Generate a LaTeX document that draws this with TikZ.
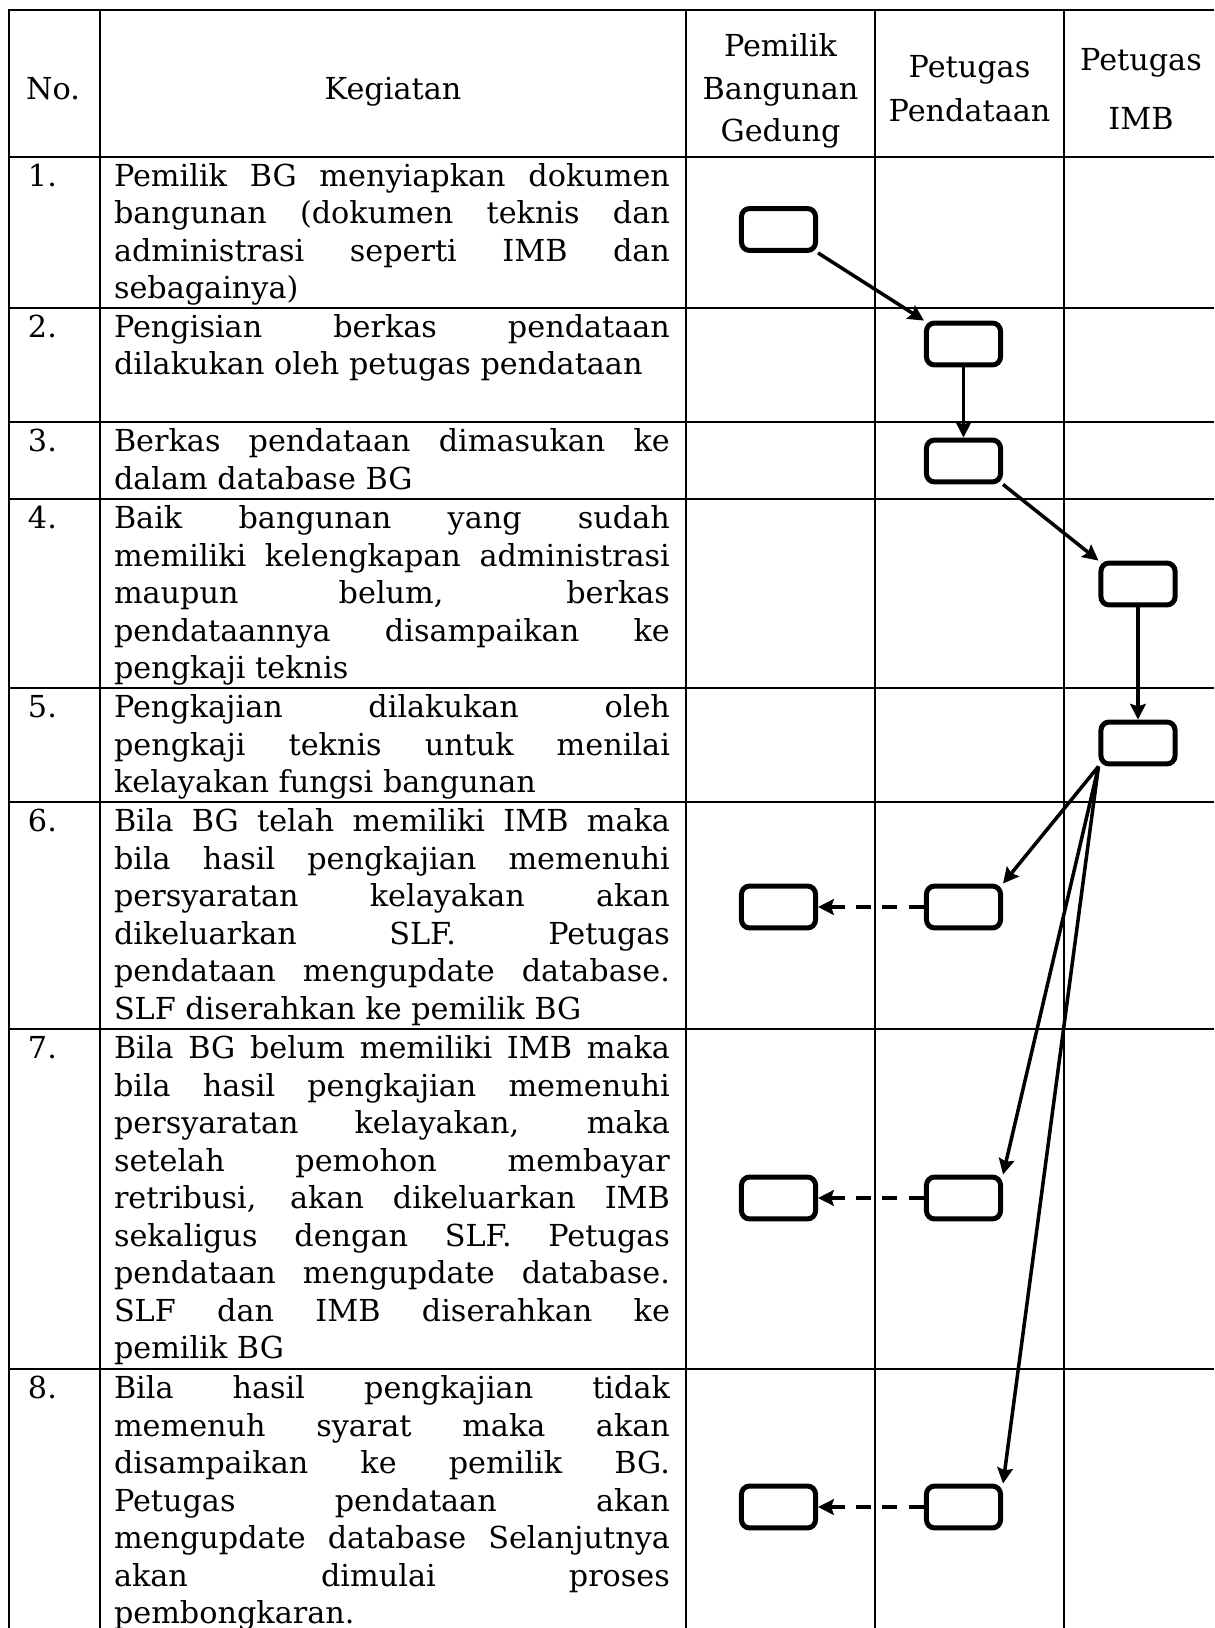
\documentclass[tikz,border=0pt]{standalone}
\usepackage{fontspec}
\setmainfont{DejaVu Serif}
\usetikzlibrary{arrows.meta}

% one drawing unit = 0.37pt
\newlength\tw \setlength\tw{205.7pt}
\newcommand\bodyfont{\fontsize{11.2}{13.875}\selectfont}
% justified line of a paragraph
\newcommand\jl[1]{\makebox[\tw][s]{#1}}
% text of the "Kegiatan" column, first baseline at the anchor
\newcommand\cell[1]{\parbox[t]{\tw}{\bodyfont #1}}
% centred header cell with its own line pitch
\newcommand\hcell[2]{\parbox[t]{66pt}{\centering\fontsize{11.2}{#1}\selectfont #2}}

\begin{document}
\begin{tikzpicture}[x=0.37pt,y=-0.37pt,
  grid/.style={line width=1pt},
  txt/.style={inner sep=0pt, outer sep=0pt, anchor=base west},
  head/.style={inner sep=0pt, outer sep=0pt, anchor=base},
  flowbox/.style={draw, line width=1.85pt, rounded corners=3pt,
    minimum width=27.4pt, minimum height=15.5pt, inner sep=0pt},
  flow/.style={line width=1.3pt, -{Stealth[length=5.8pt,width=5.8pt,inset=0.9pt]}},
  back/.style={flow, dash pattern=on 5.6pt off 4.2pt}]

\useasboundingbox (0,0) rectangle (1214,1628);

% table rules
\draw[grid] (1214,10) -- (9,10) -- (9,1628);
\foreach \y in {157,308,422,499,688,802,1029,1369}
  \draw[grid] (9,\y) -- (1214,\y);
\foreach \x in {100,686,875,1064}
  \draw[grid] (\x,10) -- (\x,1628);

% header
\node[head] (hno)  at (53,100)  {\bodyfont No.};
\node[head] (hkeg) at (393,100) {\bodyfont Kegiatan};
\node[head] (hpem) at (780.5,57) {\hcell{15.7pt}{Pemilik\\Bangunan\\Gedung}};
\node[head] (hpen) at (969.5,77.5) {\hcell{16.1pt}{Petugas\\Pendataan}};
\node[head] (himb) at (1141,71) {\hcell{21.6pt}{Petugas\\IMB}};

% row numbers
\node[txt] (n1) at (28,186.5)  {\bodyfont 1.};
\node[txt] (n2) at (28,337.5)  {\bodyfont 2.};
\node[txt] (n3) at (28,451.5)  {\bodyfont 3.};
\node[txt] (n4) at (28,528.5)  {\bodyfont 4.};
\node[txt] (n5) at (28,717.5)  {\bodyfont 5.};
\node[txt] (n6) at (28,831.5)  {\bodyfont 6.};
\node[txt] (n7) at (28,1058.5) {\bodyfont 7.};
\node[txt] (n8) at (28,1398.5) {\bodyfont 8.};

% activities
\node[txt] (t1) at (114,186.5) {\cell{%
  \jl{Pemilik BG menyiapkan dokumen}\\
  \jl{bangunan (dokumen teknis dan}\\
  \jl{administrasi seperti IMB dan}\\
  sebagainya)}};
\node[txt] (t2) at (114,337.5) {\cell{%
  \jl{Pengisian berkas pendataan}\\
  dilakukan oleh petugas pendataan}};
\node[txt] (t3) at (114,451.5) {\cell{%
  \jl{Berkas pendataan dimasukan ke}\\
  dalam database BG}};
\node[txt] (t4) at (114,528.5) {\cell{%
  \jl{Baik bangunan yang sudah}\\
  \jl{memiliki kelengkapan administrasi}\\
  \jl{maupun belum, berkas}\\
  \jl{pendataannya disampaikan ke}\\
  pengkaji teknis}};
\node[txt] (t5) at (114,717.5) {\cell{%
  \jl{Pengkajian dilakukan oleh}\\
  \jl{pengkaji teknis untuk menilai}\\
  kelayakan fungsi bangunan}};
\node[txt] (t6) at (114,831.5) {\cell{%
  \jl{Bila BG telah memiliki IMB maka}\\
  \jl{bila hasil pengkajian memenuhi}\\
  \jl{persyaratan kelayakan akan}\\
  \jl{dikeluarkan SLF. Petugas}\\
  \jl{pendataan mengupdate database.}\\
  SLF diserahkan ke pemilik BG}};
\node[txt] (t7) at (114,1058.5) {\cell{%
  \jl{Bila BG belum memiliki IMB maka}\\
  \jl{bila hasil pengkajian memenuhi}\\
  \jl{persyaratan kelayakan, maka}\\
  \jl{setelah pemohon membayar}\\
  \jl{retribusi, akan dikeluarkan IMB}\\
  \jl{sekaligus dengan SLF. Petugas}\\
  \jl{pendataan mengupdate database.}\\
  \jl{SLF dan IMB diserahkan ke}\\
  pemilik BG}};
\node[txt] (t8) at (114,1398.5) {\cell{%
  \jl{Bila hasil pengkajian tidak}\\
  \jl{memenuh syarat maka akan}\\
  \jl{disampaikan ke pemilik BG.}\\
  \jl{Petugas pendataan akan}\\
  \jl{mengupdate database Selanjutnya}\\
  \jl{akan dimulai proses}\\
  pembongkaran.}};

% flow boxes
\node[flowbox] (p1) at (778.5,229.5) {};
\node[flowbox] (d2) at (963.5,344) {};
\node[flowbox] (d3) at (963.5,461) {};
\node[flowbox] (i4) at (1138,584) {};
\node[flowbox] (i5) at (1138,743) {};
\node[flowbox] (d6) at (963.5,907) {};
\node[flowbox] (p6) at (778.5,907) {};
\node[flowbox] (d7) at (963.5,1198) {};
\node[flowbox] (p7) at (778.5,1198) {};
\node[flowbox] (d8) at (963.5,1507) {};
\node[flowbox] (p8) at (778.5,1507) {};

% connectors
\draw[flow] (p1.south east) -- (d2.north west);
\draw[flow] (d2.south) -- (d3.north);
\draw[flow] (d3.south east) -- (i4.north west);
\draw[flow] (i4.south) -- (i5.north);
\draw[flow] (i5.south west) -- (d6.north east);
\draw[flow] (i5.south west) -- (d7.north east);
\draw[flow] (i5.south west) -- (d8.north east);
\draw[back] (d6.west) -- (p6.east);
\draw[back] (d7.west) -- (p7.east);
\draw[back] (d8.west) -- (p8.east);
\end{tikzpicture}
\end{document}
